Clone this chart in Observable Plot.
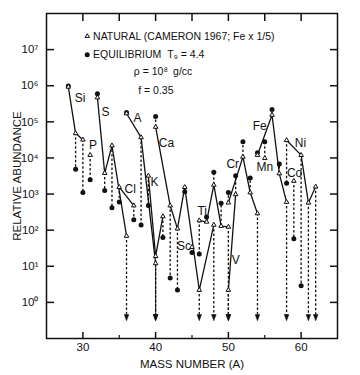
<!DOCTYPE html>
<html><head><meta charset="utf-8">
<script src="https://cdn.jsdelivr.net/npm/d3@7"></script>
<script src="https://cdn.jsdelivr.net/npm/@observablehq/plot@0.6"></script>
<style>body{margin:0;background:#fff}</style>
</head><body><div id="chart"></div>
<script>
// Isotopes: element, mass number, natural abundance (Cameron 1967), equilibrium abundance (null = below plot range)
const element = ["Si","Si","Si","P","S","S","S","S","Cl","Cl","A","A","A","K","K","K","Ca","Ca","Ca","Ca","Ca","Ca","Sc","Ti","Ti","Ti","Ti","Ti","V","V","Cr","Cr","Cr","Cr","Mn","Fe","Fe","Fe","Fe","Co","Ni","Ni","Ni","Ni"];
const mass = [28,29,30,31,32,33,34,36,35,37,36,38,40,39,40,41,40,42,43,44,46,48,45,46,47,48,49,50,50,51,50,52,53,54,55,54,56,57,58,59,58,60,61,62];
const natural = [9.3e5,4.8e4,3.2e4,1.2e4,4.7e5,3.8e3,2.2e4,69,1550,480,1.7e5,3.7e4,12,3.2e3,19,240,7.2e4,480,110,1550,2.2,140,34,185,170,1800,130,123,2.2,980,575,1.07e4,1100,290,9.8e3,1.2e4,1.55e5,3.7e3,600,2.3e3,3.1e4,1.2e4,575,1600];
const equilibrium = [9.8e5,4.9e3,1.1e3,2.5e3,6.0e5,1.25e3,420,null,600,195,1.8e5,140,null,480,null,63,1.4e5,4.7,2.2,1150,null,null,24,22,230,4.0e3,560,null,null,3.2e3,1.1e3,2.8e4,2.8e3,null,2.8e4,1.4e4,2.2e5,6.8e3,null,58,2.0e3,2.9,null,null];

const elementLabels = ["Si","P","S","Cl","A","K","Ca","Sc","Ti","V","Cr","Fe","Mn","Co","Ni"];
const xTickLabels = [30,40,50,60];
const xMinorTicks = [35,45,55];
const xTopTicks = [30,35,40,45,50,55,60];
const yTicks = [1,10,100,1e3,1e4,1e5,1e6,1e7];
const offscaleLevel = 0.38; // arrow marker level for equilibrium values below range

const rows = mass.map((m, i) => ({element: element[i], mass: m, natural: natural[i], equilibrium: equilibrium[i]}));
const onscale = rows.filter(d => d.equilibrium != null);
const offscale = rows.filter(d => d.equilibrium == null);

const sup = "⁰¹²³⁴⁵⁶⁷⁸⁹";
const ink = "#111";
const arrowHead = {draw(ctx) { ctx.moveTo(-2.3, -3); ctx.lineTo(2.3, -3); ctx.lineTo(0, 3.2); ctx.closePath(); }};

const chart = Plot.plot({
  width: 360, height: 375,
  marginLeft: 46, marginRight: 23, marginTop: 13, marginBottom: 37,
  style: {fontFamily: "'Liberation Sans', Arial, sans-serif", fontSize: "11px", color: ink, background: "#fff"},
  x: {domain: [25, 65]},
  y: {type: "log", domain: [0.1, 1e8]},
  marks: [
    Plot.frame({stroke: ink, strokeWidth: 1.5}),
    Plot.axisX(xTickLabels, {tickSize: -6, fill: "none", strokeWidth: 1.5}),
    Plot.axisX(xMinorTicks, {tickSize: -3, fill: "none", strokeWidth: 1.2}),
    Plot.axisX(xTopTicks, {anchor: "top", tickSize: -7, fill: "none", strokeWidth: 1.5}),
    Plot.axisX(xTickLabels, {tickSize: 0, tickPadding: 4, fontSize: 11.5, label: "MASS NUMBER (A)", labelAnchor: "center", labelOffset: 29, labelArrow: "none"}),
    Plot.axisY(yTicks, {tickSize: -8, fill: "none", strokeWidth: 1.5}),
    Plot.axisY(yTicks, {anchor: "right", tickSize: -8, fill: "none", strokeWidth: 1.5}),
    Plot.axisY(yTicks, {tickSize: 0, tickPadding: 8, fontSize: 11.5, tickFormat: d => "10" + sup[Math.round(Math.log10(d))], label: "RELATIVE ABUNDANCE", labelAnchor: "center", labelOffset: 34, labelArrow: "none"}),
    // dashed connectors natural -> equilibrium
    Plot.ruleX(onscale, {x: "mass", y1: "natural", y2: "equilibrium", stroke: ink, strokeWidth: 1.3, strokeDasharray: "2.5,2"}),
    Plot.ruleX(offscale, {x: "mass", y1: "natural", y2: offscaleLevel, stroke: ink, strokeWidth: 1.3, strokeDasharray: "2.5,2"}),
    Plot.dot(offscale, {x: "mass", y: offscaleLevel, symbol: arrowHead, fill: ink, stroke: ink, strokeWidth: 0.5}),
    // natural lines per element
    Plot.line(rows, {x: "mass", y: "natural", z: "element", stroke: ink, strokeWidth: 1.3}),
    Plot.dot(onscale, {x: "mass", y: "equilibrium", r: 2.5, fill: ink}),
    Plot.dot(rows, {x: "mass", y: "natural", symbol: "triangle", r: 1.7, fill: "#fff", stroke: ink, strokeWidth: 1}),
    // element labels
    Plot.text(elementLabels, {
      x: [29.6, 31.4, 33.1, 36.5, 37.5, 39.85, 41.5, 43.9, 46.4, 51.0, 50.6, 54.3, 55.0, 59.1, 59.9],
      y: [4.5e5, 2.3e4, 1.9e5, 1350, 1.3e5, 2200, 2.5e4, 37, 330, 15, 6600, 7.6e4, 5400, 3900, 2.6e4],
      text: d => d, fontSize: 12, fill: ink
    }),
    // legend / annotation
    Plot.dot([0], {x: 30.6, y: 2.35e7, symbol: "triangle", r: 1.6, fill: "#fff", stroke: ink, strokeWidth: 1}),
    Plot.dot([0], {x: 30.6, y: 7.2e6, r: 2.5, fill: ink}),
    Plot.text(["NATURAL (CAMERON 1967; Fe x 1/5)"], {x: 31.4, y: 2.35e7, text: d => d, textAnchor: "start", fontSize: 10.5, fill: ink}),
    Plot.text(["EQUILIBRIUM"], {x: 31.4, y: 7.2e6, text: d => d, textAnchor: "start", fontSize: 10.5, fill: ink}),
    Plot.text(["T₉ = 4.4"], {x: 41.6, y: 7.2e6, text: d => d, textAnchor: "start", fontSize: 10.5, fill: ink}),
    Plot.text(["ρ = 10⁸"], {x: 37.0, y: 2.4e6, text: d => d, textAnchor: "start", fontSize: 10.5, fill: ink}),
    Plot.text(["g/cc"], {x: 42.4, y: 2.4e6, text: d => d, textAnchor: "start", fontSize: 10.5, fill: ink}),
    Plot.text(["f = 0.35"], {x: 37.6, y: 7.2e5, text: d => d, textAnchor: "start", fontSize: 10.5, fill: ink})
  ]
});
document.getElementById("chart").append(chart);
</script>
</body></html>
